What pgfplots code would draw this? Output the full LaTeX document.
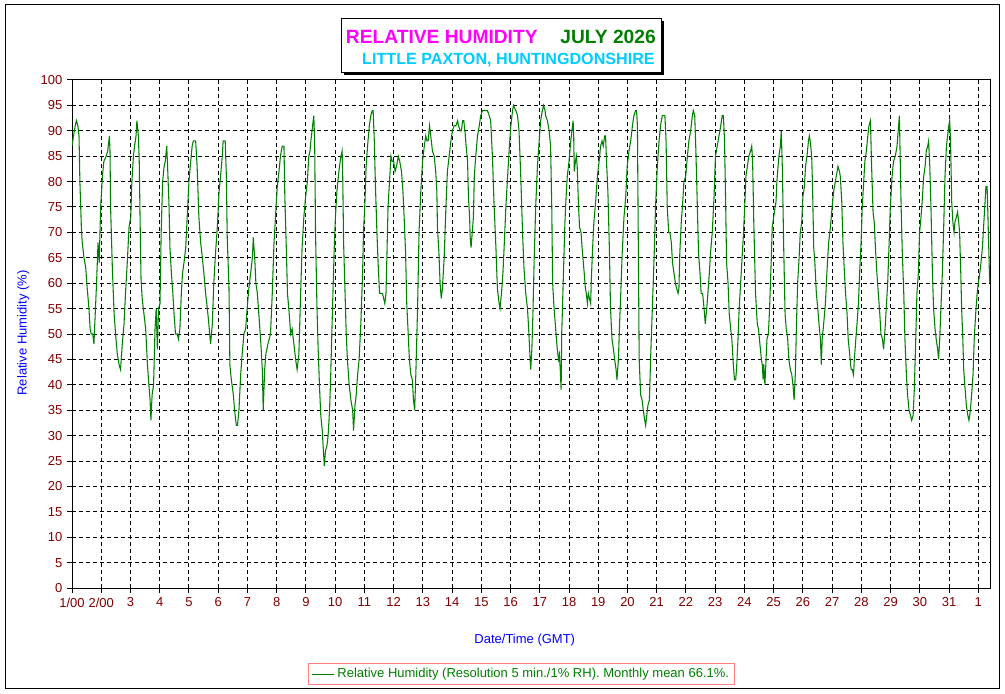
\documentclass[border=0pt]{standalone}
\usepackage{pgfplots}
\pgfplotsset{compat=1.18}
\usepackage{fontspec}
\setmainfont{Liberation Sans}
\definecolor{tickred}{RGB}{128,0,0}
\definecolor{dgreen}{RGB}{0,128,0}
\definecolor{ttlmag}{RGB}{255,0,255}
\definecolor{ttlcyan}{RGB}{0,204,255}
\definecolor{lblblue}{RGB}{0,0,255}
\definecolor{legred}{RGB}{255,128,128}
\begin{document}
\begin{tikzpicture}
\begin{scope}[x=0.75pt,y=0.75pt]
\useasboundingbox (0,0) rectangle (1005,693);
\draw[black,line width=0.75pt] (5.5,5) rectangle (999.5,688);
% title box with shadow
\fill[black] (343.5,617.5) rectangle (663.5,671.5);
\draw[black,fill=white,line width=0.75pt] (341,620) rectangle (661,674);
\node[anchor=base west,inner sep=0pt,text=ttlmag,font=\fontsize{14.4}{17}\selectfont\bfseries] at (345.7,649.7) {RELATIVE HUMIDITY};
\node[anchor=base east,inner sep=0pt,text=dgreen,font=\fontsize{14.4}{17}\selectfont\bfseries] at (656,649.7) {JULY 2026};
\node[anchor=base east,inner sep=0pt,text=ttlcyan,font=\fontsize{12.1}{15}\selectfont\bfseries] at (655,628.7) {LITTLE PAXTON, HUNTINGDONSHIRE};
\end{scope}
\begin{axis}[
  at={(54pt,78.75pt)}, anchor=south west,
  width=688.5pt, height=381pt, scale only axis,
  xmin=1, xmax=32.4, ymin=0, ymax=100,
  xtick={1,...,32},
  xticklabels={1/00,2/00,3,4,5,6,7,8,9,10,11,12,13,14,15,16,17,18,19,20,21,22,23,24,25,26,27,28,29,30,31,1},
  ytick={0,5,...,100},
  grid=major,
  major grid style={black,line width=0.75pt,dash pattern=on 3pt off 2.25pt},
  axis line style={black,line width=0.75pt},
  tick style={black,line width=0.75pt},
  tick align=outside, major tick length=3.75pt,
  xtick pos=bottom, ytick pos=left,
  /pgf/number format/assume math mode=true,
  ticklabel style={font=\fontsize{9.75}{11}\selectfont,text=tickred},
  xlabel={Date/Time (GMT)},
  ylabel={Relative Humidity (\%)},
  xlabel style={at={(axis description cs:0.4932,-0.1089)},anchor=base,inner sep=0pt,font=\fontsize{9.75}{11}\selectfont,text=lblblue},
  ylabel style={at={(axis description cs:-0.053,0.502)},anchor=center,inner sep=0pt,font=\fontsize{9.75}{11}\selectfont,text=lblblue},
  legend style={at={(axis description cs:0.4895,-0.1697)},anchor=center,draw=legred,line width=0.75pt,font=\fontsize{9.75}{11}\selectfont,text=dgreen,inner xsep=2pt,inner ysep=1.5pt},
  legend cell align=left,
]
\addplot[dgreen,line width=0.8pt] coordinates {
(1.00,87)(1.05,89)(1.11,91)(1.15,92)(1.20,91)(1.24,89)(1.27,80)(1.32,71)(1.35,68)(1.41,65)(1.47,63)(1.52,59)(1.58,55)(1.62,51)(1.66,50)(1.71,50)(1.75,48)(1.84,60)(1.89,68)(1.93,64)(1.98,75)
(2.04,81)(2.09,84)(2.17,85)(2.22,86)(2.28,89)(2.30,86)(2.32,75)(2.38,63)(2.44,54)(2.49,50)(2.55,46)(2.61,44)(2.66,43)(2.72,48)(2.78,52)(2.83,58)(2.89,64)(2.95,71)
(3.01,73)(3.04,79)(3.10,85)(3.14,87)(3.19,89)(3.22,92)(3.27,89)(3.30,84)(3.32,76)(3.36,61)(3.40,57)(3.46,54)(3.52,51)(3.58,44)(3.63,40)(3.67,37)(3.70,33)(3.74,38)(3.79,40)(3.84,51)(3.88,55)(3.92,47)(3.96,55)
(4.01,56)(4.05,70)(4.10,80)(4.15,83)(4.19,84)(4.24,87)(4.27,83)(4.32,75)(4.35,67)(4.40,62)(4.45,58)(4.49,54)(4.54,50)(4.60,50)(4.64,49)(4.69,51)(4.74,58)(4.78,62)(4.83,64)(4.89,67)(4.94,73)
(5.00,80)(5.06,84)(5.11,87)(5.15,88)(5.23,88)(5.28,83)(5.34,73)(5.40,68)(5.46,65)(5.51,62)(5.57,58)(5.63,55)(5.68,52)(5.74,48)(5.80,52)(5.85,60)(5.91,66)(5.97,71)
(6.03,78)(6.08,81)(6.14,85)(6.17,88)(6.24,88)(6.28,81)(6.31,69)(6.37,59)(6.40,44)(6.45,41)(6.52,38)(6.56,35)(6.62,32)(6.66,32)(6.71,35)(6.77,42)(6.82,46)(6.88,50)(6.94,51)(6.99,55)
(7.05,59)(7.11,62)(7.17,65)(7.20,69)(7.25,65)(7.29,60)(7.34,58)(7.39,54)(7.45,49)(7.51,43)(7.54,35)(7.59,43)(7.63,46)(7.70,48)(7.79,50)(7.85,58)(7.91,68)(7.96,73)
(8.02,79)(8.08,82)(8.13,85)(8.19,87)(8.25,87)(8.28,77)(8.33,67)(8.37,58)(8.43,54)(8.48,50)(8.53,51)(8.59,48)(8.65,45)(8.70,43)(8.76,46)(8.82,58)(8.87,67)(8.93,73)(8.99,77)
(9.05,80)(9.10,85)(9.14,86)(9.17,88)(9.23,91)(9.27,93)(9.30,88)(9.33,70)(9.38,55)(9.42,47)(9.47,39)(9.51,34)(9.56,31)(9.59,28)(9.63,24)(9.67,27)(9.72,28)(9.76,30)(9.81,35)(9.85,42)(9.91,55)(9.97,67)
(10.01,73)(10.06,78)(10.11,81)(10.15,83)(10.20,85)(10.24,86)(10.26,81)(10.29,68)(10.33,60)(10.38,50)(10.42,45)(10.48,40)(10.54,37)(10.60,35)(10.63,31)(10.68,36)(10.72,38)(10.77,42)(10.82,45)(10.88,52)(10.94,62)(10.97,70)
(11.02,76)(11.06,83)(11.11,87)(11.17,91)(11.22,93)(11.27,94)(11.30,94)(11.34,88)(11.38,79)(11.43,70)(11.47,64)(11.52,58)(11.56,58)(11.62,58)(11.66,57)(11.70,56)(11.74,58)(11.77,65)(11.81,75)(11.86,80)(11.91,85)(11.95,84)
(12.00,84)(12.05,82)(12.10,83)(12.16,85)(12.21,84)(12.27,82)(12.32,78)(12.36,73)(12.41,66)(12.45,56)(12.50,50)(12.54,45)(12.59,42)(12.64,41)(12.68,37)(12.72,35)(12.76,42)(12.82,55)(12.87,70)(12.93,78)(12.99,84)
(13.05,87)(13.10,89)(13.14,88)(13.18,88)(13.23,91)(13.27,89)(13.33,86)(13.39,85)(13.44,82)(13.48,78)(13.50,71)(13.55,66)(13.59,60)(13.63,57)(13.67,59)(13.73,65)(13.79,75)(13.84,82)(13.90,85)(13.96,88)
(14.01,90)(14.07,91)(14.13,91)(14.19,92)(14.22,91)(14.28,90)(14.32,90)(14.36,92)(14.40,92)(14.44,90)(14.48,87)(14.53,84)(14.56,77)(14.60,73)(14.62,69)(14.65,67)(14.69,70)(14.73,73)(14.76,81)(14.81,85)(14.87,89)(14.93,91)(14.98,93)
(15.04,94)(15.10,94)(15.15,94)(15.21,94)(15.27,93)(15.32,92)(15.38,85)(15.44,75)(15.50,67)(15.55,59)(15.61,56)(15.64,55)(15.69,58)(15.74,62)(15.78,67)(15.84,75)(15.90,81)(15.95,86)
(16.01,91)(16.07,94)(16.10,95)(16.18,94)(16.24,93)(16.29,90)(16.35,81)(16.41,70)(16.46,63)(16.52,58)(16.58,55)(16.62,51)(16.67,45)(16.69,43)(16.73,47)(16.77,55)(16.81,65)(16.86,75)(16.92,83)(16.98,88)
(17.03,92)(17.09,94)(17.13,95)(17.18,94)(17.20,93)(17.26,92)(17.32,90)(17.37,87)(17.41,75)(17.44,60)(17.49,55)(17.53,52)(17.57,49)(17.60,47)(17.64,45)(17.67,46)(17.70,43)(17.73,39)(17.75,50)(17.78,56)(17.83,66)(17.86,72)(17.90,77)(17.94,81)
(18.00,84)(18.06,88)(18.10,90)(18.14,92)(18.16,89)(18.18,82)(18.22,84)(18.25,85)(18.28,83)(18.32,76)(18.36,71)(18.41,70)(18.46,66)(18.49,64)(18.52,62)(18.56,59)(18.59,58)(18.63,56)(18.66,58)(18.70,57)(18.74,56)(18.76,60)(18.80,66)(18.85,72)(18.91,76)(18.97,81)
(19.03,84)(19.08,87)(19.13,88)(19.17,87)(19.22,89)(19.25,89)(19.29,83)(19.33,78)(19.38,67)(19.42,55)(19.47,49)(19.52,47)(19.56,45)(19.61,43)(19.64,41)(19.69,45)(19.73,52)(19.77,58)(19.82,66)(19.88,73)(19.94,77)(19.99,83)
(20.05,86)(20.11,88)(20.17,91)(20.22,93)(20.28,94)(20.31,94)(20.34,91)(20.37,68)(20.40,45)(20.45,38)(20.50,37)(20.54,35)(20.59,33)(20.62,32)(20.66,34)(20.70,36)(20.75,37)(20.79,45)(20.85,55)(20.91,65)(20.96,75)
(21.02,83)(21.08,88)(21.13,91)(21.19,93)(21.25,93)(21.28,93)(21.32,88)(21.36,75)(21.41,70)(21.45,70)(21.50,68)(21.54,64)(21.59,62)(21.64,60)(21.68,59)(21.73,58)(21.76,59)(21.79,66)(21.84,72)(21.89,76)(21.93,80)(21.99,81)
(22.05,85)(22.10,88)(22.16,90)(22.22,93)(22.25,94)(22.30,93)(22.34,86)(22.39,75)(22.43,66)(22.48,62)(22.52,58)(22.57,58)(22.62,55)(22.66,52)(22.71,55)(22.75,58)(22.80,62)(22.84,66)(22.90,70)(22.96,77)
(23.01,85)(23.07,87)(23.13,89)(23.19,91)(23.24,93)(23.28,93)(23.32,88)(23.36,75)(23.39,64)(23.44,60)(23.48,54)(23.53,51)(23.57,49)(23.62,44)(23.66,41)(23.70,41)(23.73,43)(23.78,49)(23.82,55)(23.87,60)(23.93,66)(23.96,69)
(24.01,75)(24.05,81)(24.10,83)(24.15,85)(24.21,86)(24.25,87)(24.28,84)(24.32,72)(24.38,58)(24.44,52)(24.48,51)(24.53,48)(24.58,45)(24.61,44)(24.64,41)(24.66,44)(24.70,40)(24.74,45)(24.77,49)(24.82,50)(24.86,55)(24.89,60)(24.92,65)(24.95,71)
(25.00,73)(25.05,75)(25.08,76)(25.11,80)(25.15,83)(25.18,85)(25.23,87)(25.26,90)(25.30,82)(25.34,68)(25.39,54)(25.43,51)(25.48,49)(25.52,45)(25.57,43)(25.62,42)(25.66,40)(25.70,37)(25.74,42)(25.78,52)(25.82,60)(25.87,65)(25.91,70)(25.96,72)
(26.00,77)(26.05,79)(26.09,83)(26.14,85)(26.19,88)(26.22,89)(26.25,88)(26.30,85)(26.33,79)(26.37,67)(26.41,64)(26.46,58)(26.51,55)(26.55,52)(26.60,49)(26.63,44)(26.66,49)(26.71,52)(26.77,56)(26.82,62)(26.88,68)(26.94,71)
(27.00,75)(27.05,78)(27.11,80)(27.17,82)(27.20,83)(27.25,82)(27.28,81)(27.33,76)(27.37,68)(27.42,62)(27.46,58)(27.51,54)(27.55,49)(27.60,46)(27.65,43)(27.69,43)(27.73,42)(27.76,45)(27.81,49)(27.85,52)(27.90,56)(27.94,62)(27.99,68)
(28.03,75)(28.08,80)(28.12,84)(28.17,86)(28.22,89)(28.26,91)(28.31,92)(28.35,83)(28.40,74)(28.44,72)(28.49,66)(28.53,62)(28.58,58)(28.63,54)(28.67,50)(28.72,49)(28.76,47)(28.81,51)(28.85,55)(28.90,60)(28.95,68)(28.99,75)
(29.05,81)(29.10,84)(29.16,85)(29.22,87)(29.26,90)(29.30,93)(29.32,87)(29.36,75)(29.40,66)(29.45,58)(29.49,49)(29.54,42)(29.58,38)(29.63,35)(29.68,34)(29.72,33)(29.77,34)(29.81,39)(29.86,49)(29.90,58)(29.95,62)(29.99,70)
(30.04,73)(30.09,77)(30.13,81)(30.18,83)(30.22,86)(30.27,87)(30.30,88)(30.34,83)(30.38,75)(30.43,62)(30.47,55)(30.52,51)(30.56,49)(30.61,47)(30.64,45)(30.68,49)(30.72,55)(30.77,62)(30.82,72)(30.86,81)(30.91,87)(30.95,89)(30.99,91)
(31.02,92)(31.05,88)(31.09,76)(31.13,72)(31.17,70)(31.20,72)(31.25,73)(31.29,74)(31.33,72)(31.36,70)(31.40,62)(31.43,55)(31.47,49)(31.50,43)(31.55,39)(31.59,36)(31.64,34)(31.68,33)(31.73,35)(31.77,38)(31.82,42)(31.86,49)(31.91,54)(31.96,58)
(32.00,60)(32.05,62)(32.09,64)(32.14,67)(32.18,71)(32.23,76)(32.26,79)(32.30,79)(32.33,73)(32.37,64)(32.39,60)
};
\addlegendentry{Relative Humidity (Resolution 5 min./1\% RH). Monthly mean 66.1\%.}
\end{axis}
\end{tikzpicture}
\end{document}
